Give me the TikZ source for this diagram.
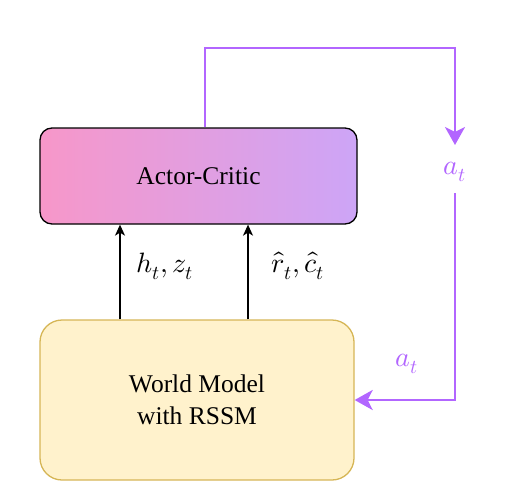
\documentclass[tikz,border=0pt]{standalone}
\usepackage{fontspec}
\usepackage{unicode-math}
\setmainfont{Liberation Serif}
\setmathfont{Latin Modern Math}
\usetikzlibrary{arrows.meta}
\definecolor{acleft}{HTML}{F797C9}
\definecolor{acright}{HTML}{CDA5F7}
\definecolor{wmfill}{HTML}{FFF2CC}
\definecolor{wmdraw}{HTML}{D6B656}
\definecolor{act}{HTML}{B266FF}
\tikzset{
  boxtext/.style={font=\fontsize{25.5}{32}\selectfont, align=center},
  acbox/.style={boxtext, draw=black, line width=1.3pt, rounded corners=12pt,
    left color=acleft, right color=acright, shading angle=90,
    minimum width=317pt, minimum height=96pt, inner sep=0pt},
  wmbox/.style={boxtext, draw=wmdraw, fill=wmfill, line width=1.3pt, rounded corners=22pt,
    minimum width=314pt, minimum height=160pt, inner sep=0pt},
  feed/.style={draw=black, line width=1.3pt, -{Stealth[length=11pt,width=10pt,inset=3pt]}},
  actline/.style={draw=act, line width=2.8pt},
  actarrow/.style={actline, -{Stealth[length=18pt,width=20pt,inset=5pt]}},
  mathlabel/.style={font=\fontsize{28}{32}\selectfont, inner sep=0pt},
  actlabel/.style={mathlabel, text=act},
}
\begin{document}
\begin{tikzpicture}[x=1pt, y=-1pt]
\useasboundingbox (0,0) rectangle (532,482);

% the two blocks
\node[acbox] (ac) at (198.5,176) {Actor-Critic};
\node[wmbox] (wm) at (197,400) {World Model\\with RSSM};

% latent state and predictions fed from the world model to the actor-critic
\coordinate (x1) at (120,0);
\coordinate (x2) at (248,0);
\draw[feed] (x1 |- wm.north) -- (x1 |- ac.south);
\draw[feed] (x2 |- wm.north) -- (x2 |- ac.south);
\node[mathlabel] (hz) at (165,266) {$h_t, z_t$};
\node[mathlabel] (rc) at (298,266) {$\hat{r}_t, \hat{c}_t$};

% action loop from the actor-critic back into the world model
\coordinate (p) at (205,0);
\coordinate (top) at (455,48);
\coordinate (c1) at (455,145);
\coordinate (c2) at (455,193);
\node[actlabel] (a1) at (455,172) {$a_t$};
\node[actlabel] (a2) at (407,364) {$a_t$};
\draw[actarrow] (p |- ac.north) |- (top) -- (c1);
\draw[actarrow] (c2) |- (wm.east);
\end{tikzpicture}
\end{document}
